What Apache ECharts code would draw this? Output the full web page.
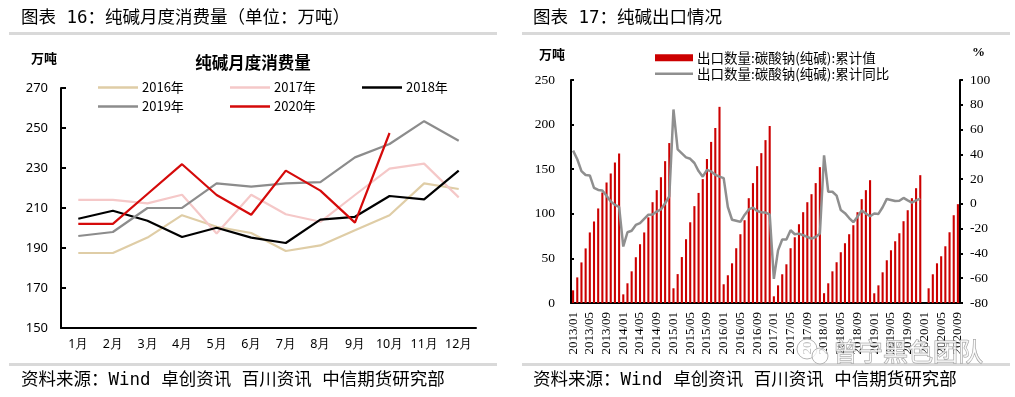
<!DOCTYPE html>
<html>
<head>
<meta charset="utf-8">
<script src="https://cdn.jsdelivr.net/npm/echarts@6/dist/echarts.min.js"></script>
<style>
html, body { margin: 0; padding: 0; background: #fff; }
#main { width: 1015px; height: 397px; }
</style>
</head>
<body>
<div id="main"></div>
<script>
// 图表16 纯碱月度消费量（万吨）
var months = ['1月', '2月', '3月', '4月', '5月', '6月', '7月', '8月', '9月', '10月', '11月', '12月'];
var c2016 = [187.5, 187.5, 195.2, 206.4, 200.6, 197.5, 188.5, 191.3, 198.9, 206.4, 222.3, 219.5];
var c2017 = [214.1, 214.1, 212.3, 216.6, 197.2, 216.6, 206.9, 203.1, 216.5, 229.7, 232.2, 215.3];
var c2018 = [204.6, 208.6, 203.6, 195.5, 200.1, 195.2, 192.5, 204.2, 205.6, 216, 214.3, 228.7];
var c2019 = [196, 198, 210, 210.1, 222.3, 220.7, 222.3, 222.9, 235.3, 242, 253.4, 243.6];
var c2020 = [202.1, 202.1, 217, 231.9, 216.5, 206.6, 228.7, 218.7, 202.7, 247.5];
var consTicks = [150, 170, 190, 210, 230, 250, 270];

// 图表17 纯碱出口：累计值（万吨）
var vol2013 = [14.2, 28.7, 45.5, 61.2, 79.1, 91.4, 106, 123.9, 135.1, 145.2, 157.5, 167.6];
var vol2014 = [9.7, 22.1, 35.5, 51.3, 65.9, 79.1, 96, 113, 126.5, 141, 159, 179.3];
var vol2015 = [16.5, 32.4, 51.5, 71.5, 90.5, 108.6, 123.4, 138.9, 161.4, 180.6, 196.2, 219.9];
var vol2016 = [21, 31.1, 44.5, 61.4, 77.1, 92.8, 117.5, 134.4, 153.4, 168, 182.6, 198.4];
var vol2017 = [7.5, 19.8, 32.2, 43.4, 61.4, 73.7, 88.3, 101.8, 113, 122, 134.4, 152.3];
var vol2018 = [11, 22.1, 35.5, 45.7, 56.9, 67, 77.1, 87.2, 101.8, 116.4, 126.5, 137.7];
var vol2019 = [10.9, 19.8, 34.4, 47.9, 59.1, 69.2, 78.2, 91.7, 104, 117.5, 128.7, 143.3];
var vol2020 = [null, 16.5, 32.2, 44.5, 52.4, 63.6, 79.3, 98.4, 110.8];

// 累计同比（%）
var yoy2013 = [43, 36, 26.5, 23.3, 23, 13, 11.3, 10.8, 6.5, 2, -0.8, -2.5];
var yoy2014 = [-34.4, -22.9, -21.7, -17, -15.5, -12.1, -8.7, -8.5, -6.2, -4.5, 0.5, 6];
var yoy2015 = [76.2, 44, 40.8, 37.6, 36.4, 33, 26.5, 22, 27.5, 26.2, 23.5, 22];
var yoy2016 = [20.8, -2.5, -12.8, -13.6, -14.5, -8.9, -4.5, -3, -5.7, -6.7, -7, -8.4];
var yoy2017 = [-60.5, -37.5, -28.8, -28.8, -21.3, -24.5, -24, -25.3, -26.7, -28, -26.7, -24];
var yoy2018 = [39.2, 9.8, 9.8, 6.6, -5, -7.5, -11.4, -14.8, -10.3, -5.4, -7.8, -10];
var yoy2019 = [-7.8, -8.1, -2.7, 4, 3.2, 2.3, 2.5, 4.8, 2.8, 1, 2.8, 4.3];
var yoy2020 = [null, null, null, null, null, null, null, null, null];

var exportVol = [].concat(vol2013, vol2014, vol2015, vol2016, vol2017, vol2018, vol2019, vol2020);
var exportYoy = [].concat(yoy2013, yoy2014, yoy2015, yoy2016, yoy2017, yoy2018, yoy2019, yoy2020);

var exportMonths = [];
for (var y = 2013; y <= 2020; y++) {
    for (var m = 1; m <= 12; m++) {
        if (y === 2020 && m > 9) break;
        exportMonths.push(y + '/' + (m < 10 ? '0' + m : m));
    }
}

var volTicks = [0, 50, 100, 150, 200, 250];
var yoyTicks = [-80, -60, -40, -20, 0, 20, 40, 60, 80, 100];

var CJK = '"Noto Sans CJK SC", sans-serif';
var MONO = '"DejaVu Sans Mono", "Noto Sans CJK SC", monospace';
var SERIF = '"Liberation Serif", "DejaVu Serif", serif';

function txt(text, x, y, size, opt) {
    opt = opt || {};
    return {
        type: 'text', x: x, y: y, silent: true,
        style: {
            text: text, fill: opt.fill || '#000', fontSize: size,
            fontFamily: opt.font || CJK, fontWeight: opt.bold ? 'bold' : 'normal',
            verticalAlign: 'middle', align: opt.align || 'left',
            stroke: opt.stroke, lineWidth: opt.lineWidth || 0
        }
    };
}

function legendItem(name, left, top, w, h, size) {
    return {
        data: [name], left: left, top: top, icon: 'rect',
        itemWidth: w, itemHeight: h, itemGap: 0, padding: 0,
        textStyle: { color: '#000', fontSize: size, fontFamily: CJK, padding: [0, 0, 0, -1] }
    };
}

var myChart = echarts.init(document.getElementById('main'));

var option = {
    animation: false,
    backgroundColor: '#fff',
    textStyle: { fontFamily: '"Noto Sans", sans-serif' },
    graphic: [
        txt('图表 16：纯碱月度消费量（单位：万吨）', 21, 18, 17.5, { font: MONO }),
        txt('图表 17：纯碱出口情况', 533, 18, 17.5, { font: MONO }),
        { type: 'rect', shape: { x: 9, y: 32, width: 488, height: 3 }, style: { fill: '#D9D9D9' } },
        { type: 'rect', shape: { x: 522, y: 32, width: 488, height: 3 }, style: { fill: '#D9D9D9' } },
        { type: 'rect', shape: { x: 9, y: 363, width: 488, height: 3 }, style: { fill: '#D9D9D9' } },
        { type: 'rect', shape: { x: 522, y: 363, width: 488, height: 3 }, style: { fill: '#D9D9D9' } },
        txt('资料来源：Wind 卓创资讯 百川资讯 中信期货研究部', 21, 380, 17.5, { font: MONO }),
        txt('资料来源：Wind 卓创资讯 百川资讯 中信期货研究部', 533, 380, 17.5, { font: MONO }),
        txt('万吨', 31, 58, 13, { bold: true }),
        txt('纯碱月度消费量', 253, 63, 16.5, { bold: true, align: 'center' }),
        txt('万吨', 539, 54, 13, { bold: true }),
        txt('%', 972, 53, 13, { bold: true, font: SERIF }),
        { type: 'circle', shape: { cx: 807, cy: 349, r: 10 }, z: 100,
          style: { fill: 'rgba(255,255,255,0.75)', stroke: '#B5B5B5', lineWidth: 1 } },
        { type: 'circle', shape: { cx: 820, cy: 356, r: 8 }, z: 100,
          style: { fill: 'rgba(255,255,255,0.75)', stroke: '#B5B5B5', lineWidth: 1 } },
        Object.assign(txt('曾宁黑色团队', 833, 351, 25, { fill: 'rgba(255,255,255,0.7)', stroke: '#9A9A9A', lineWidth: 1 }), { z: 100 })
    ],
    legend: [
        legendItem('2016年', 98, 81, 40, 2.5, 13),
        legendItem('2017年', 230, 81, 40, 2.5, 13),
        legendItem('2018年', 362, 81, 40, 2.5, 13),
        legendItem('2019年', 98, 100, 40, 2.5, 13),
        legendItem('2020年', 230, 100, 40, 2.5, 13),
        legendItem('出口数量:碳酸钠(纯碱):累计值', 655, 51, 38, 7, 13.5),
        legendItem('出口数量:碳酸钠(纯碱):累计同比', 655, 67, 38, 2.5, 13.5)
    ],
    grid: [
        { left: 61, top: 88, width: 415, height: 240 },
        { left: 571, top: 80, width: 389, height: 223 }
    ],
    xAxis: [
        {
            type: 'category', gridIndex: 0, data: months, boundaryGap: true,
            axisLine: { lineStyle: { color: '#000', width: 2 } },
            axisTick: { inside: true, length: 5, lineStyle: { color: '#000', width: 2 } },
            axisLabel: { color: '#000', fontSize: 12.5, margin: 10, interval: 0 }
        },
        {
            type: 'category', gridIndex: 1, data: exportMonths, boundaryGap: true,
            axisLine: { lineStyle: { color: '#000', width: 2 } },
            axisTick: { inside: true, length: 3, interval: 3, lineStyle: { color: '#000', width: 2 } },
            axisLabel: { color: '#000', fontSize: 13, fontFamily: SERIF, rotate: 90, interval: 3, margin: 9 }
        }
    ],
    yAxis: [
        {
            type: 'value', gridIndex: 0, min: consTicks[0], max: consTicks[consTicks.length - 1], interval: 20,
            splitLine: { show: false },
            axisLine: { show: true, lineStyle: { color: '#000', width: 2 } },
            axisTick: { show: true, inside: true, length: 5, lineStyle: { color: '#000', width: 2 } },
            axisLabel: { color: '#000', fontSize: 13, margin: 13 }
        },
        {
            type: 'value', gridIndex: 1, min: volTicks[0], max: volTicks[volTicks.length - 1], interval: 50,
            splitLine: { show: false },
            axisLine: { show: true, lineStyle: { color: '#000', width: 2 } },
            axisTick: { show: true, inside: true, length: 3, lineStyle: { color: '#000', width: 2 } },
            axisLabel: { color: '#000', fontSize: 13.5, fontFamily: SERIF, margin: 16 }
        },
        {
            type: 'value', gridIndex: 1, position: 'right',
            min: yoyTicks[0], max: yoyTicks[yoyTicks.length - 1], interval: 20,
            splitLine: { show: false },
            axisLine: { show: true, lineStyle: { color: '#000', width: 2 } },
            axisTick: { show: true, length: 3, lineStyle: { color: '#000', width: 2 } },
            axisLabel: { color: '#000', fontSize: 13.5, fontFamily: SERIF, margin: 10 }
        }
    ],
    series: [
        { name: '2016年', type: 'line', xAxisIndex: 0, yAxisIndex: 0, data: c2016, symbol: 'none',
          color: '#DFCDA6', lineStyle: { width: 2.2, color: '#DFCDA6' } },
        { name: '2017年', type: 'line', xAxisIndex: 0, yAxisIndex: 0, data: c2017, symbol: 'none',
          color: '#F5C8C8', lineStyle: { width: 2.2, color: '#F5C8C8' } },
        { name: '2018年', type: 'line', xAxisIndex: 0, yAxisIndex: 0, data: c2018, symbol: 'none',
          color: '#000000', lineStyle: { width: 2.2, color: '#000000' } },
        { name: '2019年', type: 'line', xAxisIndex: 0, yAxisIndex: 0, data: c2019, symbol: 'none',
          color: '#8C8C8C', lineStyle: { width: 2.2, color: '#8C8C8C' } },
        { name: '2020年', type: 'line', xAxisIndex: 0, yAxisIndex: 0, data: c2020, symbol: 'none',
          color: '#D50A0A', lineStyle: { width: 2.2, color: '#D50A0A' } },
        { name: '出口数量:碳酸钠(纯碱):累计值', type: 'bar', xAxisIndex: 1, yAxisIndex: 1,
          data: exportVol, barWidth: '50%', color: '#CC0000', itemStyle: { color: '#CC0000' } },
        { name: '出口数量:碳酸钠(纯碱):累计同比', type: 'line', xAxisIndex: 1, yAxisIndex: 2,
          data: exportYoy, symbol: 'none', connectNulls: false,
          color: '#8F8F8F', lineStyle: { width: 2.5, color: '#8F8F8F' } }
    ]
};

myChart.setOption(option);
</script>
</body>
</html>
